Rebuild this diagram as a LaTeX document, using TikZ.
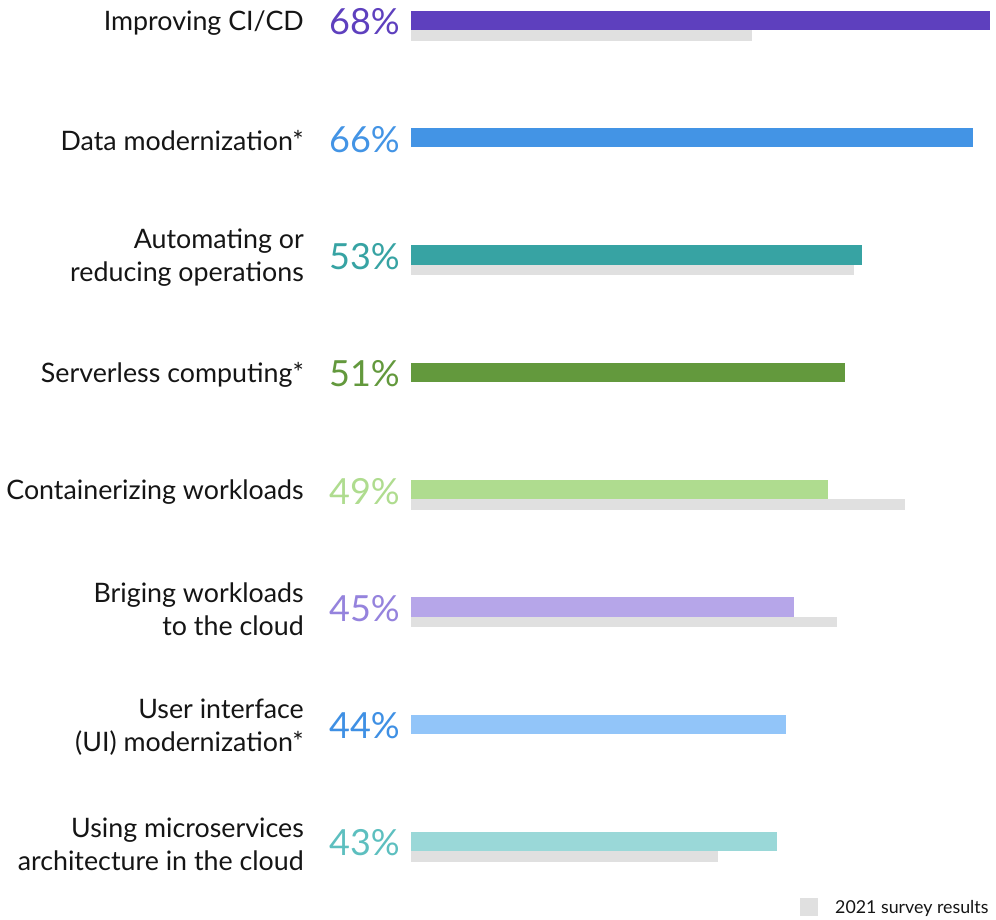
\documentclass[tikz,border=0pt]{standalone}
\usepackage{fontspec}
\setmainfont{Lato}
\usetikzlibrary{positioning}

\definecolor{cicd}{HTML}{5E40BE}
\definecolor{datam}{HTML}{4394E5}
\definecolor{autom}{HTML}{37A3A3}
\definecolor{srvls}{HTML}{63993D}
\definecolor{contr}{HTML}{AFDC8F}
\definecolor{cloud}{HTML}{B6A6E9}
\definecolor{cloudtxt}{HTML}{9583DD}
\definecolor{uimod}{HTML}{92C5F9}
\definecolor{uitxt}{HTML}{3F90E4}
\definecolor{micro}{HTML}{9AD8D8}
\definecolor{microtxt}{HTML}{5DBFBF}
\definecolor{oldgray}{HTML}{E0E0E0}
\definecolor{labtxt}{HTML}{151515}

\begin{document}
\begin{tikzpicture}[x=1pt,y=-1pt,
    cat label/.style={anchor=east,align=right,inner sep=0pt,text=labtxt,font=\fontsize{26.8}{33}\selectfont},
    pct label/.style={anchor=west,inner sep=0pt,font=\fontsize{36}{36}\selectfont},
    key label/.style={anchor=west,inner sep=0pt,text=labtxt,font=\fontsize{17.8}{18}\selectfont}]
  \useasboundingbox (0,0) rectangle (996,920);

  \foreach \i/\lab/\val/\old/\col/\tcol in {
      0/{Improving CI/CD}/68/40/cicd/cicd,
      1/{Data modernization*}/66/0/datam/datam,
      2/{Automating or\\reducing operations}/53/52/autom/autom,
      3/{Serverless computing*}/51/0/srvls/srvls,
      4/{Containerizing workloads}/49/58/contr/contr,
      5/{Briging workloads\\to the cloud}/45/50/cloud/cloudtxt,
      6/{User interface\\(UI) modernization*}/44/0/uimod/uitxt,
      7/{Using microservices\\architecture in the cloud}/43/36/micro/microtxt} {
    \pgfmathsetmacro{\yc}{20.5+117.3*\i}
    \coordinate (row\i) at (411,\yc);
    \node[cat label] (cat\i) at (304,\yc+2.5) {\lab};
    \node[pct label,text=\tcol] (pct\i) at (329,\yc+1.5) {\val\%};
    \fill[\col] (411,\yc-9.8) rectangle ({411+\val*8.515},\yc+9.6);
    \ifnum\old>0
      \fill[oldgray] (411,\yc+9.6) rectangle ({411+\old*8.515},\yc+20.2);
    \fi
  }

  % legend
  \fill[oldgray] (800,898) rectangle (818,916) coordinate (key box);
  \node[key label] (key) at (835,908.5) {2021 survey results};
\end{tikzpicture}
\end{document}
